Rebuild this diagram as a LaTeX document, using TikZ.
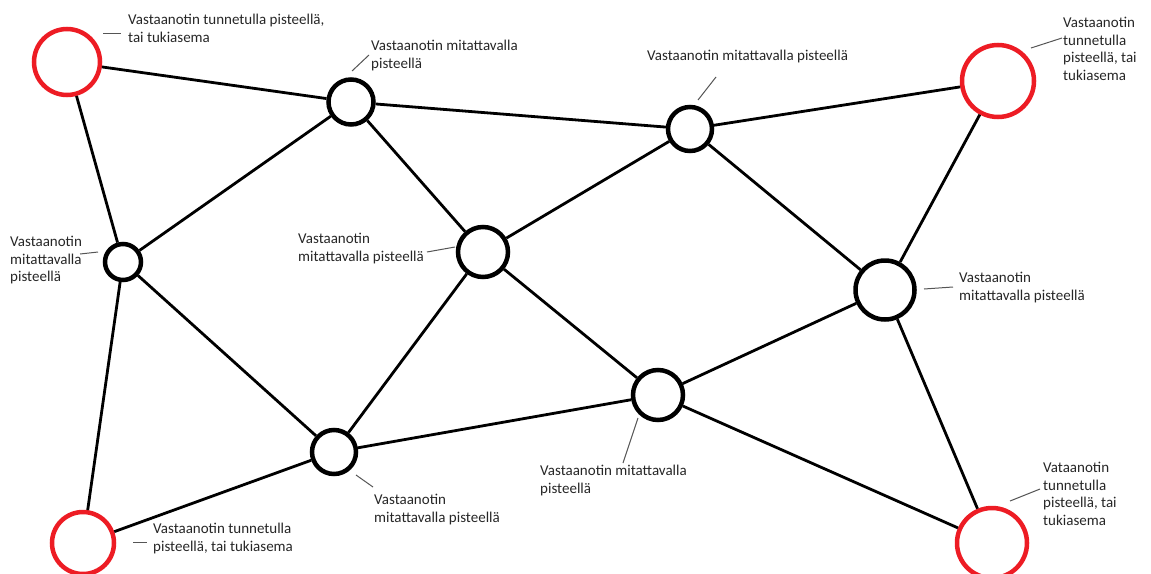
\documentclass[tikz,border=0pt]{standalone}
\usepackage{fontspec}
\setmainfont{Carlito}
\definecolor{pred}{HTML}{ED1C24}
\definecolor{ptext}{HTML}{262626}
\definecolor{plead}{HTML}{555555}
\tikzset{
  known/.style={circle, draw=pred, line width=4.5pt, inner sep=0pt, fill=white},
  meas/.style={circle, draw=black, line width=4.5pt, inner sep=0pt, fill=white},
  edge/.style={draw=black, line width=2.8pt},
  lab/.style={anchor=north west, inner sep=0pt, align=left, text=ptext, font=\fontsize{15}{17.6}\selectfont},
  lead/.style={draw=plead, line width=1pt}
}
\begin{document}
\begin{tikzpicture}[x=1pt, y=-1pt]
\useasboundingbox (0,0) rectangle (1151,573);
% nodes
\node[known, minimum size=66pt] (TL) at (67,62) {};
\node[known, minimum size=72pt] (TR) at (998,81) {};
\node[known, minimum size=62pt] (BL) at (83,543) {};
\node[known, minimum size=70pt] (BR) at (992,543) {};
\node[meas, minimum size=45pt] (A) at (351,102) {};
\node[meas, minimum size=44pt] (B) at (690,129) {};
\node[meas, minimum size=36pt] (C) at (123,262) {};
\node[meas, minimum size=50pt] (D) at (483,252) {};
\node[meas, minimum size=59pt] (E) at (885,290) {};
\node[meas, minimum size=50pt] (F) at (658,395) {};
\node[meas, minimum size=44pt] (G) at (334,452) {};
% edges
\begin{scope}[on background layer/.style={}]
\draw[edge] (TL) -- (A);
\draw[edge] (TL) -- (C);
\draw[edge] (A) -- (B);
\draw[edge] (B) -- (TR);
\draw[edge] (A) -- (C);
\draw[edge] (A) -- (D);
\draw[edge] (B) -- (D);
\draw[edge] (B) -- (E);
\draw[edge] (TR) -- (E);
\draw[edge] (C) -- (G);
\draw[edge] (C) -- (BL);
\draw[edge] (D) -- (G);
\draw[edge] (D) -- (F);
\draw[edge] (E) -- (F);
\draw[edge] (E) -- (BR);
\draw[edge] (G) -- (BL);
\draw[edge] (G) -- (F);
\draw[edge] (F) -- (BR);
\end{scope}
% labels
\node[lab] (lTL) at (128,14) {Vastaanotin tunnetulla pisteellä,\\tai tukiasema};
\node[lab] (lA) at (371,40) {Vastaanotin mitattavalla\\pisteellä};
\node[lab] (lB) at (647,50) {Vastaanotin mitattavalla pisteellä};
\node[lab] (lTR) at (1063,17) {Vastaanotin\\tunnetulla\\pisteellä, tai\\tukiasema};
\node[lab] (lC) at (10,236) {Vastaanotin\\mitattavalla\\pisteellä};
\node[lab] (lD) at (298,233) {Vastaanotin\\mitattavalla pisteellä};
\node[lab] (lE) at (959,272) {Vastaanotin\\mitattavalla pisteellä};
\node[lab] (lF) at (540,465) {Vastaanotin mitattavalla\\pisteellä};
\node[lab] (lG) at (374,494) {Vastaanotin\\mitattavalla pisteellä};
\node[lab] (lBL) at (153,523) {Vastaanotin tunnetulla\\pisteellä, tai tukiasema};
\node[lab] (lBR) at (1043,462) {Vataanotin\\tunnetulla\\pisteellä, tai\\tukiasema};
% leader lines
\coordinate (tl1) at (103,33); \coordinate (tl2) at (121,33);
\coordinate (a1) at (352,71); \coordinate (a2) at (369,55);
\coordinate (b1) at (698,100); \coordinate (b2) at (716,77);
\coordinate (tr1) at (1031,48); \coordinate (tr2) at (1062,38);
\coordinate (c1) at (80,254); \coordinate (c2) at (98,252);
\coordinate (d1) at (427,252); \coordinate (d2) at (455,247);
\coordinate (e1) at (924,289); \coordinate (e2) at (953,287);
\coordinate (f1) at (638,418); \coordinate (f2) at (623,463);
\coordinate (g1) at (356,475); \coordinate (g2) at (373,487);
\coordinate (bl1) at (133,542); \coordinate (bl2) at (147,542);
\coordinate (br1) at (1010,501); \coordinate (br2) at (1040,489);
\draw[lead] (tl1) -- (tl2);
\draw[lead] (a1) -- (a2);
\draw[lead] (b1) -- (b2);
\draw[lead] (tr1) -- (tr2);
\draw[lead] (c1) -- (c2);
\draw[lead] (d1) -- (d2);
\draw[lead] (e1) -- (e2);
\draw[lead] (f1) -- (f2);
\draw[lead] (g1) -- (g2);
\draw[lead] (bl1) -- (bl2);
\draw[lead] (br1) -- (br2);
\end{tikzpicture}
\end{document}
